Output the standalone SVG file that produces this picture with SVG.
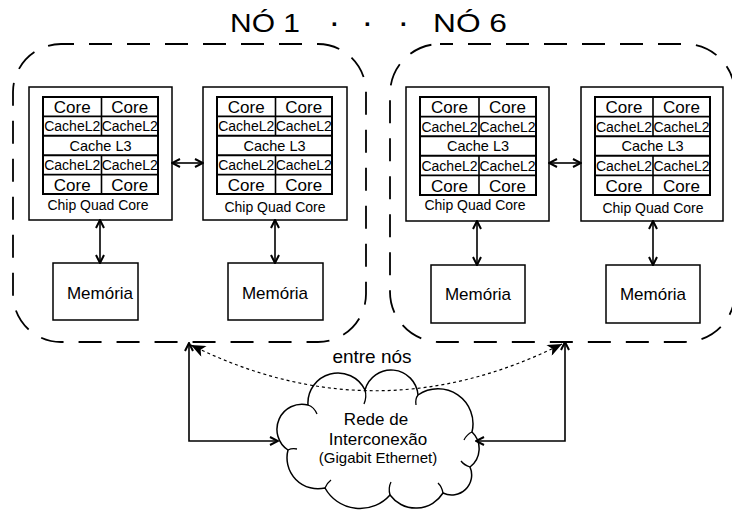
<svg xmlns="http://www.w3.org/2000/svg" width="732" height="510" viewBox="0 0 732 510">
<defs>
<marker id="open" viewBox="0 0 10 10" refX="9" refY="5" markerWidth="10" markerHeight="10" markerUnits="userSpaceOnUse" orient="auto-start-reverse"><path d="M1,1 L9,5 L1,9" fill="none" stroke="#000" stroke-width="2"/></marker>
<marker id="solid" viewBox="0 0 12 10" refX="12" refY="5" markerWidth="15" markerHeight="12" markerUnits="userSpaceOnUse" orient="auto-start-reverse"><path d="M0,0 L12,5 L0,10 L3,5 z" fill="#000"/></marker>
</defs>
<style>
text{font-family:"Liberation Sans",Arial,sans-serif;fill:#000}
.title{font-size:25px}
.dot{font-size:24px;font-weight:bold}
.core{font-size:17px;text-anchor:middle}
.c2{font-size:14px;text-anchor:middle}
.l3{font-size:14.5px;text-anchor:middle}
.chipt{font-size:14px;text-anchor:middle}
.mem{font-size:17px;text-anchor:middle}
.net{font-size:17px;text-anchor:middle}
.net2{font-size:15px;text-anchor:middle}
.lbl{font-size:19px;text-anchor:middle}
.box{fill:#fff;stroke:#000;stroke-width:1.5}
.grid{fill:none;stroke:#000;stroke-width:1.6}
.gthick{fill:none;stroke:#000;stroke-width:2}
.node{fill:none;stroke:#000;stroke-width:1.8;stroke-dasharray:23 15}
.conn{fill:none;stroke:#000;stroke-width:1.6}
.dotted{fill:none;stroke:#000;stroke-width:1.2;stroke-dasharray:3 3}
.cloud{fill:#fff;stroke:#000;stroke-width:1.5}
.curl{fill:none;stroke:#000;stroke-width:1.3}
</style>
<rect width="732" height="510" fill="#fff"/>

<g id="title">
<text class="title" y="32"><tspan x="230" textLength="70" lengthAdjust="spacingAndGlyphs">NÓ 1</tspan><tspan class="dot" x="331">·</tspan><tspan class="dot" x="364">·</tspan><tspan class="dot" x="400">·</tspan><tspan x="433" textLength="74" lengthAdjust="spacingAndGlyphs">NÓ 6</tspan></text>
</g>

<g id="node1">
<rect class="node" x="13" y="44" width="353" height="298" rx="48" ry="48" stroke-dashoffset="10"/>
</g>
<g id="node6">
<rect class="node" x="390" y="44" width="345" height="298" rx="50" ry="50" stroke-dashoffset="10"/>
</g>

<g id="n1-chip1" transform="translate(29,87)">
<rect class="box" x="0" y="0" width="143" height="133"/>
<rect class="gthick" x="14" y="10" width="115" height="97"/>
<path class="grid" d="M14,29.4H129M14,87.6H129M72.5,10V48.8M72.5,68.2V107"/>
<path class="gthick" d="M14,48.8H129M14,68.2H129"/>
<text class="core" x="43.25" y="25.8">Core</text><text class="core" x="100.75" y="25.8">Core</text>
<text class="c2" x="43.25" y="44">CacheL2</text><text class="c2" x="100.75" y="44">CacheL2</text>
<text class="l3" x="71.5" y="63.6">Cache L3</text>
<text class="c2" x="43.25" y="83">CacheL2</text><text class="c2" x="100.75" y="83">CacheL2</text>
<text class="core" x="43.25" y="103.5">Core</text><text class="core" x="100.75" y="103.5">Core</text>
<text class="chipt" x="69" y="123">Chip Quad Core</text>
</g>

<g id="n1-chip2" transform="translate(203,87)">
<rect class="box" x="0" y="0" width="144" height="133"/>
<rect class="gthick" x="14" y="10" width="115" height="97"/>
<path class="grid" d="M14,29.4H129M14,87.6H129M72.5,10V48.8M72.5,68.2V107"/>
<path class="gthick" d="M14,48.8H129M14,68.2H129"/>
<text class="core" x="43.25" y="25.8">Core</text><text class="core" x="100.75" y="25.8">Core</text>
<text class="c2" x="43.25" y="44">CacheL2</text><text class="c2" x="100.75" y="44">CacheL2</text>
<text class="l3" x="71.5" y="63.6">Cache L3</text>
<text class="c2" x="43.25" y="83">CacheL2</text><text class="c2" x="100.75" y="83">CacheL2</text>
<text class="core" x="43.25" y="103.5">Core</text><text class="core" x="100.75" y="103.5">Core</text>
<text class="chipt" x="72" y="125">Chip Quad Core</text>
</g>

<g id="n6-chip1" transform="translate(406,87)">
<rect class="box" x="0" y="0" width="143" height="134"/>
<rect class="gthick" x="14" y="10" width="116" height="98"/>
<path class="grid" d="M14,29.6H130M14,88.4H130M73,10V49.2M73,68.8V108"/>
<path class="gthick" d="M14,49.2H130M14,68.8H130"/>
<text class="core" x="43.5" y="26">Core</text><text class="core" x="101.5" y="26">Core</text>
<text class="c2" x="43.5" y="44.5">CacheL2</text><text class="c2" x="101.5" y="44.5">CacheL2</text>
<text class="l3" x="72" y="64">Cache L3</text>
<text class="c2" x="43.5" y="84">CacheL2</text><text class="c2" x="101.5" y="84">CacheL2</text>
<text class="core" x="43.5" y="104.5">Core</text><text class="core" x="101.5" y="104.5">Core</text>
<text class="chipt" x="69" y="123">Chip Quad Core</text>
</g>

<g id="n6-chip2" transform="translate(581,87)">
<rect class="box" x="0" y="0" width="142" height="134"/>
<rect class="gthick" x="14" y="10" width="115" height="98"/>
<path class="grid" d="M14,29.6H129M14,88.4H129M72,10V49.2M72,68.8V108"/>
<path class="gthick" d="M14,49.2H129M14,68.8H129"/>
<text class="core" x="43" y="26">Core</text><text class="core" x="100.5" y="26">Core</text>
<text class="c2" x="43" y="44.5">CacheL2</text><text class="c2" x="100.5" y="44.5">CacheL2</text>
<text class="l3" x="71.5" y="64">Cache L3</text>
<text class="c2" x="43" y="84">CacheL2</text><text class="c2" x="100.5" y="84">CacheL2</text>
<text class="core" x="43" y="104.5">Core</text><text class="core" x="100.5" y="104.5">Core</text>
<text class="chipt" x="72" y="126">Chip Quad Core</text>
</g>

<g id="n1-mem1"><rect class="box" x="53" y="263" width="85" height="57"/><text class="mem" x="100" y="299">Memória</text></g>
<g id="n1-mem2"><rect class="box" x="228" y="263" width="95" height="57"/><text class="mem" x="275" y="299">Memória</text></g>
<g id="n6-mem1"><rect class="box" x="431" y="265" width="94" height="58"/><text class="mem" x="478" y="300">Memória</text></g>
<g id="n6-mem2"><rect class="box" x="606" y="265" width="94" height="58"/><text class="mem" x="653" y="300">Memória</text></g>

<g id="cloud">
<path class="cloud" d="M288,450 A25,25 0 0,1 308,405 A30,30 0 0,1 365,390 A27,27 0 0,1 418,395 A35,35 0 0,1 472,432 A23,23 0 0,1 470,467 A20,20 0 0,1 443,493 A32,32 0 0,1 390,495 A40,40 0 0,1 325,488 A31,31 0 0,1 288,450 Z"/>
<path class="curl" d="M308,405 q6,2 9,9 M365,390 q2,7 -1,14 M418,395 q-3,4 -2,10 M472,432 q-5,2 -8,8 M470,467 q-6,-2 -9,-6 M443,493 q-1,-6 -5,-10 M390,495 q-2,-7 1,-13 M325,488 q2,-5 6,-8 M288,450 q4,-2 9,-1"/>
<text class="net" x="376" y="425">Rede de</text>
<text class="net" x="378" y="445">Interconexão</text>
<text class="net2" x="378" y="463">(Gigabit Ethernet)</text>
</g>

<g id="connectors">
<line class="conn" x1="172" y1="163" x2="203" y2="163" marker-start="url(#open)" marker-end="url(#open)"/>
<line class="conn" x1="549" y1="163" x2="581" y2="163" marker-start="url(#open)" marker-end="url(#open)"/>
<line class="conn" x1="100" y1="220" x2="100" y2="263" marker-start="url(#open)" marker-end="url(#open)"/>
<line class="conn" x1="275" y1="220" x2="275" y2="263" marker-start="url(#open)" marker-end="url(#open)"/>
<line class="conn" x1="477" y1="221" x2="477" y2="265" marker-start="url(#open)" marker-end="url(#open)"/>
<line class="conn" x1="653" y1="221" x2="653" y2="265" marker-start="url(#open)" marker-end="url(#open)"/>
<path class="conn" d="M189,343 V441 H278" marker-start="url(#open)" marker-end="url(#open)"/>
<path class="conn" d="M565,342 V441 H476" marker-start="url(#open)" marker-end="url(#open)"/>
<path class="dotted" d="M191,345 Q376,437 562,344" marker-start="url(#solid)" marker-end="url(#solid)"/>
<text class="lbl" x="372" y="363">entre nós</text>
</g>
</svg>
